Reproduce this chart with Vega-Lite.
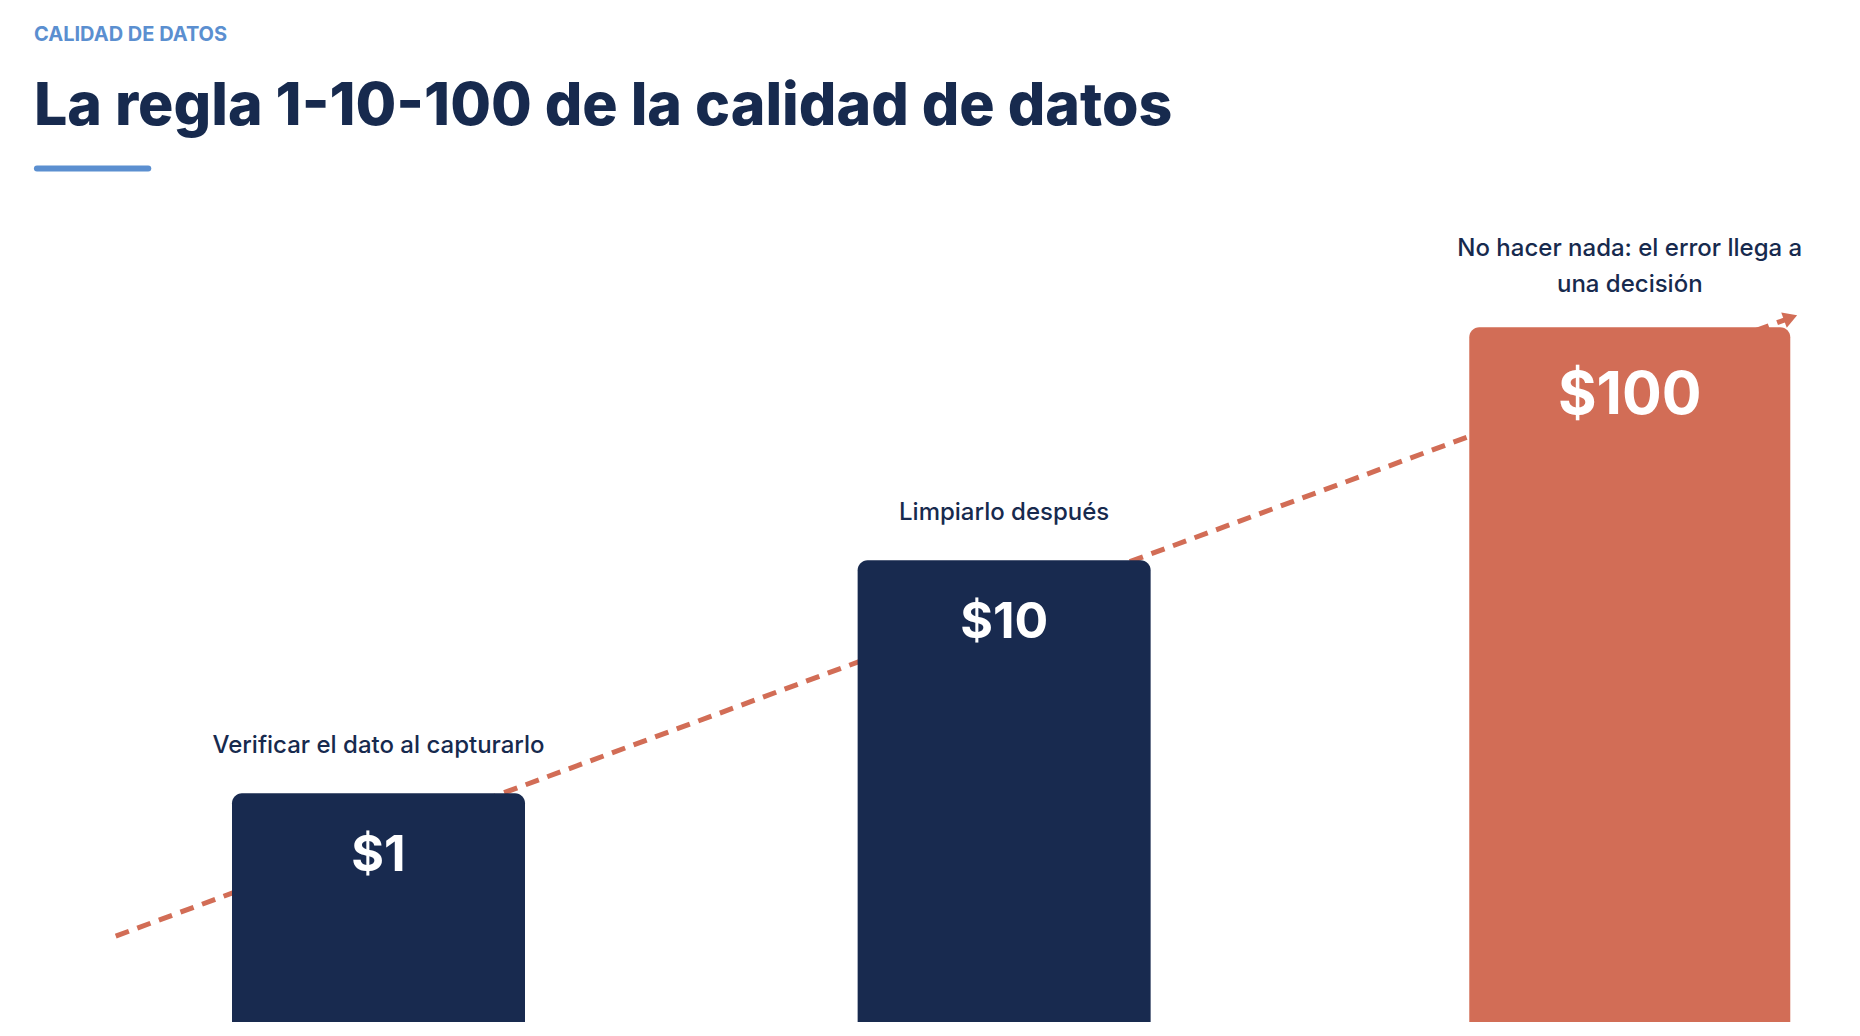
{
  "$schema": "https://vega.github.io/schema/vega-lite/v6.json",
  "width": 1860,
  "height": 822,
  "autosize": {"type": "none"},
  "padding": {"left": 0, "top": 200, "right": 0, "bottom": 14},
  "background": "white",
  "config": {"view": {"stroke": null}, "font": "Inter"},
  "title": {
    "text": "CALIDAD DE DATOS",
    "subtitle": "La regla 1-10-100 de la calidad de datos",
    "anchor": "start",
    "frame": "group",
    "dx": 34,
    "font": "Inter",
    "fontSize": 20,
    "fontWeight": 700,
    "color": "#5b8fd0",
    "subtitleFont": "Inter",
    "subtitleFontSize": 59,
    "subtitleFontWeight": 800,
    "subtitleColor": "#172a4e",
    "subtitlePadding": 33,
    "offset": 29
  },
  "datasets": {
    "pasos": [
      {"etapa": 1, "costo": 1, "etiqueta": ["Verificar el dato al capturarlo"]},
      {"etapa": 2, "costo": 10, "etiqueta": ["Limpiarlo después"]},
      {"etapa": 3, "costo": 100, "etiqueta": ["No hacer nada: el error llega a", "una decisión"]}
    ],
    "tendencia": [
      {"etapa": 0.58, "costo": 0.244},
      {"etapa": 3.257, "costo": 110}
    ]
  },
  "layer": [
    {
      "data": {"values": [{}]},
      "mark": {"type": "rule", "color": "#5b8fd0", "strokeWidth": 6, "strokeCap": "round"},
      "encoding": {
        "x": {"datum": 0.454, "type": "quantitative", "scale": {"domain": [0.403, 3.36], "nice": false, "zero": false}, "axis": null},
        "x2": {"datum": 0.632},
        "y": {"datum": 480, "type": "quantitative", "scale": {"type": "log", "domain": [0.1044, 352], "nice": false}, "axis": null}
      }
    },
    {
      "data": {"name": "tendencia"},
      "mark": {"type": "line", "color": "#d26d56", "strokeWidth": 5, "strokeDash": [14, 9]},
      "encoding": {
        "x": {"field": "etapa", "type": "quantitative"},
        "y": {"field": "costo", "type": "quantitative"}
      }
    },
    {
      "data": {"name": "tendencia"},
      "transform": [{"filter": "datum.costo > 50"}],
      "mark": {"type": "point", "shape": "triangle-right", "filled": true, "color": "#d26d56", "opacity": 1, "size": 260, "angle": -20},
      "encoding": {
        "x": {"field": "etapa", "type": "quantitative"},
        "y": {"field": "costo", "type": "quantitative"}
      }
    },
    {
      "data": {"name": "pasos"},
      "mark": {"type": "bar", "cornerRadiusTopLeft": 10, "cornerRadiusTopRight": 10},
      "encoding": {
        "x": {"field": "etapa", "type": "quantitative"},
        "y": {"field": "costo", "type": "quantitative"},
        "y2": {"datum": 0.1044},
        "size": {"condition": {"test": "datum.costo === 100", "value": 321}, "value": 293},
        "color": {"condition": {"test": "datum.costo === 100", "value": "#d26d56"}, "value": "#182a4f"}
      }
    },
    {
      "data": {"name": "pasos"},
      "transform": [{"filter": "length(datum.etiqueta) === 1"}],
      "mark": {"type": "text", "baseline": "bottom", "align": "center", "dy": -35, "fontSize": 24, "fontWeight": 500, "color": "#172a4e", "lineHeight": 36},
      "encoding": {
        "x": {"field": "etapa", "type": "quantitative"},
        "y": {"field": "costo", "type": "quantitative"},
        "text": {"field": "etiqueta"}
      }
    },
    {
      "data": {"name": "pasos"},
      "transform": [{"filter": "length(datum.etiqueta) > 1"}],
      "mark": {"type": "text", "baseline": "bottom", "align": "center", "dy": -66, "fontSize": 24, "fontWeight": 500, "color": "#172a4e", "lineHeight": 36},
      "encoding": {
        "x": {"field": "etapa", "type": "quantitative"},
        "y": {"field": "costo", "type": "quantitative"},
        "text": {"field": "etiqueta"}
      }
    },
    {
      "data": {"name": "pasos"},
      "transform": [{"filter": "datum.costo < 100"}],
      "mark": {"type": "text", "baseline": "middle", "align": "center", "dy": 63, "fontSize": 50, "fontWeight": 700, "color": "white"},
      "encoding": {
        "x": {"field": "etapa", "type": "quantitative"},
        "y": {"field": "costo", "type": "quantitative"},
        "text": {"field": "costo", "type": "quantitative", "format": "$d"}
      }
    },
    {
      "data": {"name": "pasos"},
      "transform": [{"filter": "datum.costo === 100"}],
      "mark": {"type": "text", "baseline": "middle", "align": "center", "dy": 69, "fontSize": 59, "fontWeight": 700, "color": "white"},
      "encoding": {
        "x": {"field": "etapa", "type": "quantitative"},
        "y": {"field": "costo", "type": "quantitative"},
        "text": {"field": "costo", "type": "quantitative", "format": "$d"}
      }
    }
  ]
}
